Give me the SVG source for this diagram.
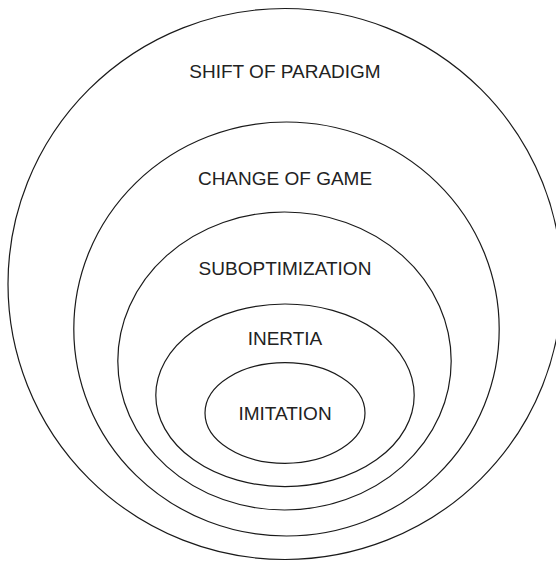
<svg xmlns="http://www.w3.org/2000/svg" width="556" height="561" viewBox="0 0 556 561">
<style>
.ring{fill:none;stroke:#1a1a1a;stroke-width:1.2}
.lbl{font-family:"Liberation Sans",Arial,sans-serif;font-size:19px;fill:#222;text-anchor:middle}
</style>
<rect width="556" height="561" fill="#fff"/>
<g id="shift-of-paradigm">
<ellipse class="ring" cx="285" cy="284" rx="277" ry="275.5"/>
<text class="lbl" x="285" y="78.3">SHIFT OF PARADIGM</text>
</g>
<g id="change-of-game">
<ellipse class="ring" cx="286.5" cy="329" rx="212.7" ry="207"/>
<text class="lbl" x="285" y="185">CHANGE OF GAME</text>
</g>
<g id="suboptimization">
<ellipse class="ring" cx="284.5" cy="361" rx="166.7" ry="149"/>
<text class="lbl" x="285" y="275">SUBOPTIMIZATION</text>
</g>
<g id="inertia">
<ellipse class="ring" cx="285" cy="395.3" rx="129.2" ry="91.3"/>
<text class="lbl" x="285" y="345">INERTIA</text>
</g>
<g id="imitation">
<ellipse class="ring" cx="285" cy="413" rx="80" ry="50.3"/>
<text class="lbl" x="285" y="420">IMITATION</text>
</g>
<g id="connectors"/>
</svg>
